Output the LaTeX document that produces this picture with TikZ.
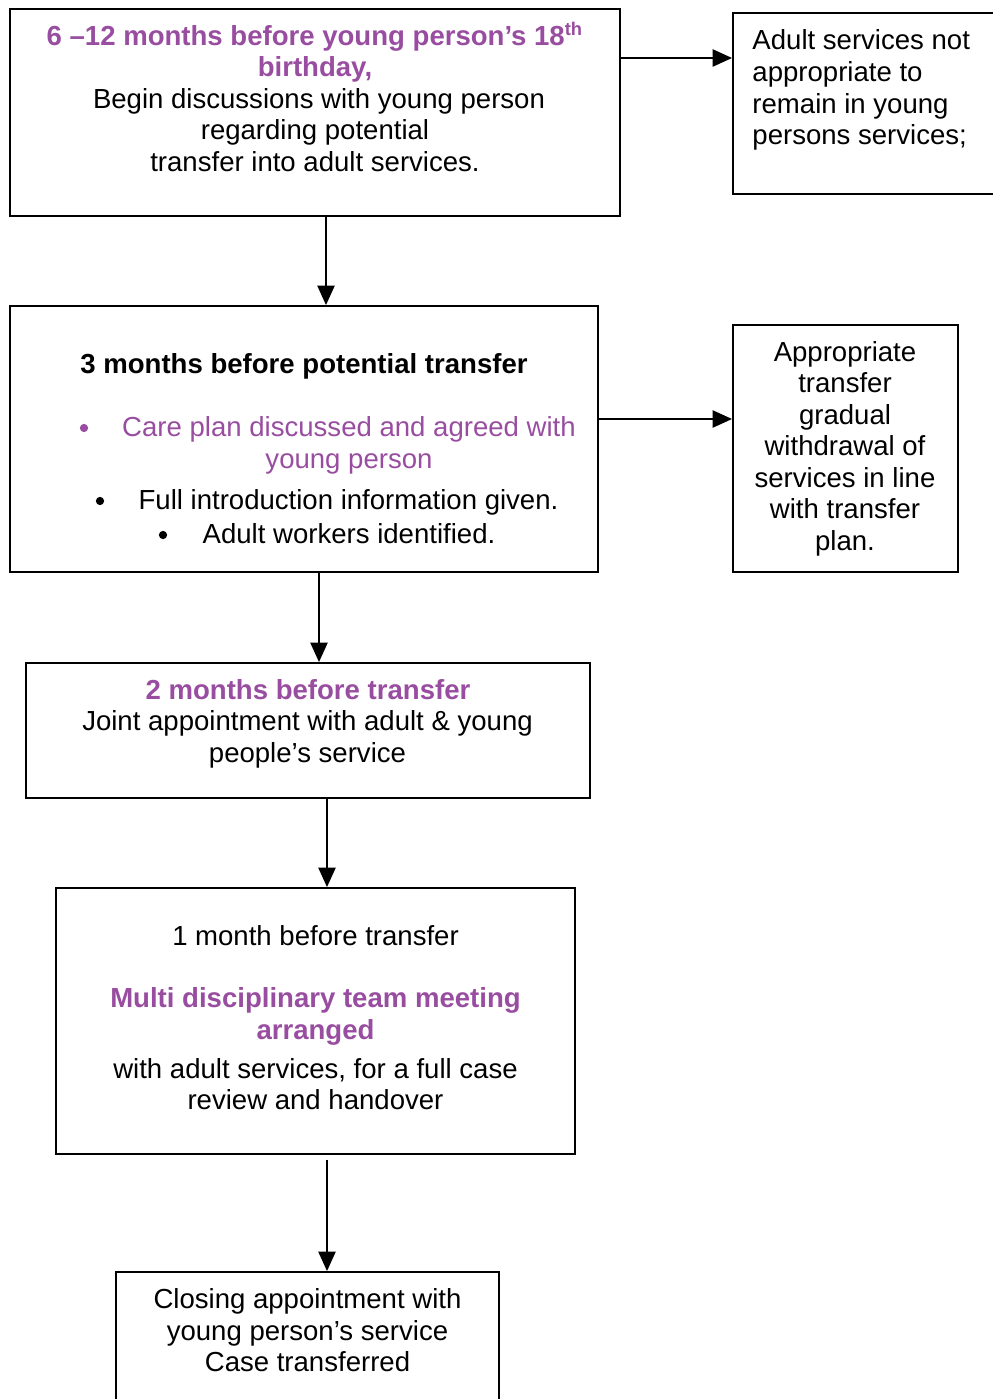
\documentclass[tikz,border=0pt]{standalone}
\usepackage{fontspec}
\setmainfont{Liberation Sans}
\usetikzlibrary{fit,arrows.meta}
\definecolor{plum}{RGB}{153,77,160}
\tikzset{
  box/.style={draw, line width=0.8pt, inner sep=0pt},
  txt/.style={inner sep=0pt, anchor=base, font=\fontsize{12}{13.7}\selectfont, yshift=-0.65pt},
  hd/.style={txt, font=\fontsize{12}{13.7}\selectfont\bfseries, text=plum},
  dot/.style={circle, fill, inner sep=0pt, minimum size=3.6pt},
  arr/.style={line width=0.8pt, -{Triangle[length=8.5pt,width=7.5pt]}},
}
\begin{document}
\begin{tikzpicture}[x=0.4354pt, y=-0.4354pt]
\useasboundingbox (0,0) rectangle (993,1399);
\clip (0,0) rectangle (993,1399);

% boxes
\node[box, fit={(10,9) (620,216)}] (b1) {};
\node[box, fit={(733,13) (1010,194)}] (r1) {};
\node[box, fit={(10,306) (598,572)}] (b2) {};
\node[box, fit={(733,325) (958,572)}] (r2) {};
\node[box, fit={(26,663) (590,798)}] (b3) {};
\node[box, fit={(56,888) (575,1154)}] (b4) {};
\node[box, fit={(116,1272) (499,1420)}] (b5) {};

% 6-12 months
\node[hd] (b1a) at (315,44) {6 --12 months before young person’s 18\textsuperscript{th}};
\node[hd] (b1b) at (315,75.5) {birthday,};
\node[txt] (b1c) at (319,107) {Begin discussions with young person};
\node[txt] (b1d) at (315,138.5) {regarding potential};
\node[txt] (b1e) at (315,170) {transfer into adult services.};

% side note 1
\node[txt, anchor=base west] (r1a) at (752,48) {Adult services not};
\node[txt, anchor=base west] (r1b) at (752,80) {appropriate to};
\node[txt, anchor=base west] (r1c) at (752,112) {remain in young};
\node[txt, anchor=base west] (r1d) at (752,143) {persons services;};

% 3 months
\node[txt, font=\fontsize{12}{13.7}\selectfont\bfseries] (b2a) at (304,372) {3 months before potential transfer};
\node[dot, fill=plum] (d1) at (84,428) {};
\node[txt, text=plum] (b2b) at (349,435) {Care plan discussed and agreed with};
\node[txt, text=plum] (b2c) at (349,467) {young person};
\node[dot] (d2) at (100,501) {};
\node[txt] (b2d) at (348.5,508) {Full introduction information given.};
\node[dot] (d3) at (163,535) {};
\node[txt] (b2e) at (349,542) {Adult workers identified.};

% side note 2
\node[txt] (r2a) at (845,360) {Appropriate};
\node[txt] (r2b) at (845,391) {transfer};
\node[txt] (r2c) at (845,423) {gradual};
\node[txt] (r2d) at (845,454) {withdrawal of};
\node[txt] (r2e) at (845,486) {services in line};
\node[txt] (r2f) at (845,517) {with transfer};
\node[txt] (r2g) at (845,549) {plan.};

% 2 months
\node[hd] (b3a) at (308,698) {2 months before transfer};
\node[txt] (b3b) at (307.5,729) {Joint appointment with adult \& young};
\node[txt] (b3c) at (307.5,761) {people’s service};

% 1 month
\node[txt] (b4a) at (315.5,944) {1 month before transfer};
\node[hd] (b4b) at (315.5,1006) {Multi disciplinary team meeting};
\node[hd] (b4c) at (315.5,1038) {arranged};
\node[txt] (b4d) at (315.5,1077) {with adult services, for a full case};
\node[txt] (b4e) at (315.5,1108) {review and handover};

% closing
\node[txt] (b5a) at (307.5,1307) {Closing appointment with};
\node[txt] (b5b) at (307.5,1339) {young person’s service};
\node[txt] (b5c) at (307.5,1370) {Case transferred};

% connectors
\draw[arr] (b1.east |- 0,58) -- (r1.west |- 0,58);
\draw[arr] (b1.south -| 326,0) -- (b2.north -| 326,0);
\draw[arr] (b2.east |- 0,419) -- (r2.west |- 0,419);
\draw[arr] (b2.south -| 319,0) -- (b3.north -| 319,0);
\draw[arr] (b3.south -| 327,0) -- (b4.north -| 327,0);
\draw[arr, shorten <=2pt] (b4.south -| 327,0) -- (b5.north -| 327,0);
\end{tikzpicture}
\end{document}
